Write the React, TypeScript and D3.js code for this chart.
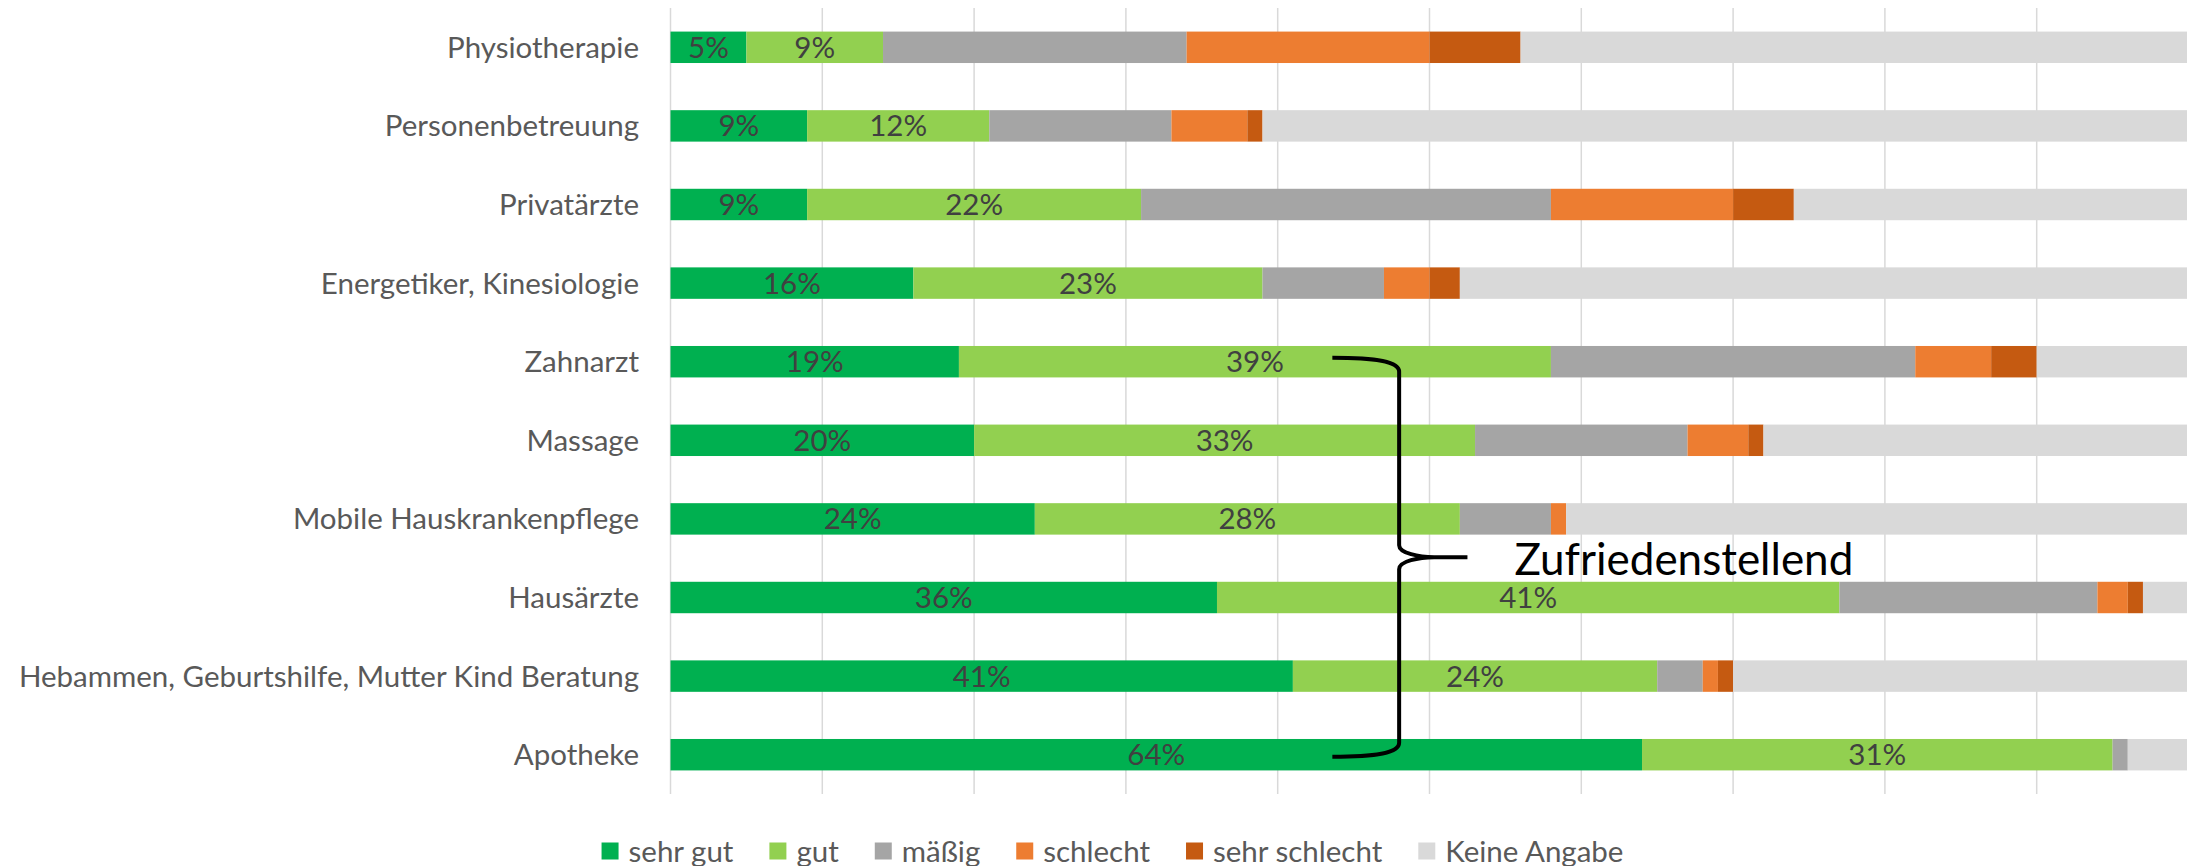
import React, { useEffect, useRef } from 'react';
import * as d3 from 'd3';

const categories = [
  'Physiotherapie',
  'Personenbetreuung',
  'Privatärzte',
  'Energetiker, Kinesiologie',
  'Zahnarzt',
  'Massage',
  'Mobile Hauskrankenpflege',
  'Hausärzte',
  'Hebammen, Geburtshilfe, Mutter Kind Beratung',
  'Apotheke',
];
const seriesNames = ['sehr gut', 'gut', 'mäßig', 'schlecht', 'sehr schlecht', 'Keine Angabe'];
const sehrGut = [5, 9, 9, 16, 19, 20, 24, 36, 41, 64];
const gut = [9, 12, 22, 23, 39, 33, 28, 41, 24, 31];
const maessig = [20, 12, 27, 8, 24, 14, 6, 17, 3, 1];
const schlecht = [16, 5, 12, 3, 5, 4, 1, 2, 1, 0];
const sehrSchlecht = [6, 1, 4, 2, 3, 1, 0, 1, 1, 0];
const keineAngabe = [44, 61, 26, 48, 10, 28, 41, 3, 30, 4];
const seriesValues = [sehrGut, gut, maessig, schlecht, sehrSchlecht, keineAngabe];
const seriesColors = ['#00B050', '#92D050', '#A5A5A5', '#ED7D31', '#C55A11', '#D9D9D9'];
const labeledSeries = ['sehr gut', 'gut'];
const xTicks = [0, 10, 20, 30, 40, 50, 60, 70, 80, 90, 100];
const annotationText = 'Zufriedenstellend';
const braceFrom = 'Zahnarzt';
const braceTo = 'Apotheke';
const braceArmX = 43.6;
const braceSpineX = 48;
const braceTipX = 52.5;
const annotationX = 55.6;

const W = 2187;
const H = 866;
const FONT = 'Lato, "Open Sans", sans-serif';
const FS = 29.5;

export default function App() {
  const ref = useRef<SVGSVGElement>(null);

  useEffect(() => {
    document.body.style.margin = '0';
    const svg = d3.select(ref.current);
    svg.selectAll('*').remove();

    const x = d3.scaleLinear().domain([0, 100]).range([670.5, 2188.5]);
    const y = d3
      .scaleBand<string>()
      .domain(categories)
      .range([8, 794])
      .paddingInner(0.6)
      .paddingOuter(0.3);

    const rows = categories.map((c, i) => {
      const r: any = { cat: c };
      seriesNames.forEach((s, j) => (r[s] = seriesValues[j][i]));
      return r;
    });
    const stacked = d3.stack<any>().keys(seriesNames)(rows);

    // gridlines
    svg
      .append('g')
      .selectAll('line')
      .data(xTicks)
      .join('line')
      .attr('x1', (d) => x(d))
      .attr('x2', (d) => x(d))
      .attr('y1', 8)
      .attr('y2', 794)
      .attr('stroke', '#D9D9D9')
      .attr('stroke-width', 1.5);

    // bars
    const g = svg.append('g');
    stacked.forEach((layer, j) => {
      g.append('g')
        .attr('fill', seriesColors[j])
        .selectAll('rect')
        .data(layer)
        .join('rect')
        .attr('x', (d) => x(d[0]))
        .attr('width', (d) => Math.max(0, x(d[1]) - x(d[0])))
        .attr('y', (d) => y(d.data.cat)!)
        .attr('height', y.bandwidth());
    });

    // data labels
    stacked.forEach((layer) => {
      if (!labeledSeries.includes(layer.key)) return;
      g.append('g')
        .selectAll('text')
        .data(layer)
        .join('text')
        .attr('x', (d) => (x(d[0]) + x(d[1])) / 2)
        .attr('y', (d) => y(d.data.cat)! + y.bandwidth() / 2 + 10.5)
        .attr('text-anchor', 'middle')
        .attr('font-family', FONT)
        .attr('font-size', FS)
        .attr('fill', '#404040')
        .text((d) => `${d[1] - d[0]}%`);
    });

    // category labels
    svg
      .append('g')
      .selectAll('text')
      .data(categories)
      .join('text')
      .attr('x', 639)
      .attr('y', (d) => y(d)! + y.bandwidth() / 2 + 10.5)
      .attr('text-anchor', 'end')
      .attr('font-family', FONT)
      .attr('font-size', FS)
      .attr('fill', '#595959')
      .text((d) => d);

    // brace
    const yTop = y(braceFrom)! + y.bandwidth() / 2 - 4;
    const yBot = y(braceTo)! + y.bandwidth() / 2 + 2;
    const yMid = (yTop + yBot) / 2;
    const xa = x(braceArmX);
    const xs = x(braceSpineX);
    const xt = x(braceTipX);
    const xk = xs + 35;
    const p = d3.path();
    p.moveTo(xa, yTop);
    p.bezierCurveTo(xa + 45, yTop, xs, yTop + 4, xs, yTop + 14);
    p.lineTo(xs, yMid - 12);
    p.bezierCurveTo(xs, yMid - 4, xs + 20, yMid, xk, yMid);
    p.lineTo(xt, yMid);
    p.moveTo(xk, yMid);
    p.bezierCurveTo(xs + 20, yMid, xs, yMid + 4, xs, yMid + 12);
    p.lineTo(xs, yBot - 14);
    p.bezierCurveTo(xs, yBot - 4, xa + 45, yBot, xa, yBot);
    svg
      .append('path')
      .attr('d', p.toString())
      .attr('fill', 'none')
      .attr('stroke', '#000')
      .attr('stroke-width', 4);

    svg
      .append('text')
      .attr('x', x(annotationX))
      .attr('y', yMid + 18)
      .attr('font-family', FONT)
      .attr('font-size', 44)
      .attr('fill', '#000')
      .text(annotationText);

    // legend
    const lg = svg.append('g');
    const items = lg
      .selectAll('g')
      .data(seriesNames)
      .join('g');
    items
      .append('rect')
      .attr('width', 17)
      .attr('height', 17)
      .attr('y', 842.5)
      .attr('fill', (_, i) => seriesColors[i]);
    items
      .append('text')
      .attr('x', 27)
      .attr('y', 861.5)
      .attr('font-family', FONT)
      .attr('font-size', FS)
      .attr('fill', '#595959')
      .text((d) => d);
    const widths: number[] = [];
    items.each(function () {
      const t = d3.select(this).select('text').node() as SVGTextElement;
      widths.push(27 + t.getComputedTextLength());
    });
    const gap = 36;
    const total = d3.sum(widths) + gap * (widths.length - 1);
    let cx = 1112.5 - total / 2;
    items.each(function (_, i) {
      d3.select(this).attr('transform', `translate(${cx},0)`);
      cx += widths[i] + gap;
    });
  }, []);

  return (
    <svg
      ref={ref}
      width={W}
      height={H}
      style={{ position: 'absolute', left: 0, top: 0, background: '#fff' }}
    />
  );
}
